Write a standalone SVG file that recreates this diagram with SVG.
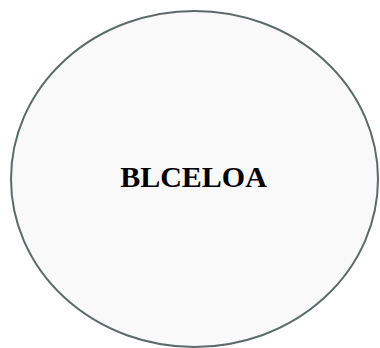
<svg xmlns="http://www.w3.org/2000/svg" width="380" height="348" viewBox="0 0 380 348">
<style>
.node{fill:#f9f9f9;stroke:#5d6a6a;stroke-width:2}
.lbl{font-family:"Liberation Serif","Times New Roman",serif;font-weight:bold;font-size:30px;fill:#000}
</style>
<rect width="380" height="348" fill="#ffffff"/>
<g id="connectors"></g>
<g id="node-blceloa">
<ellipse class="node" cx="194.5" cy="179" rx="183.5" ry="168"/>
<text class="lbl" x="193.5" y="187" text-anchor="middle">BLCELOA</text>
</g>
</svg>
